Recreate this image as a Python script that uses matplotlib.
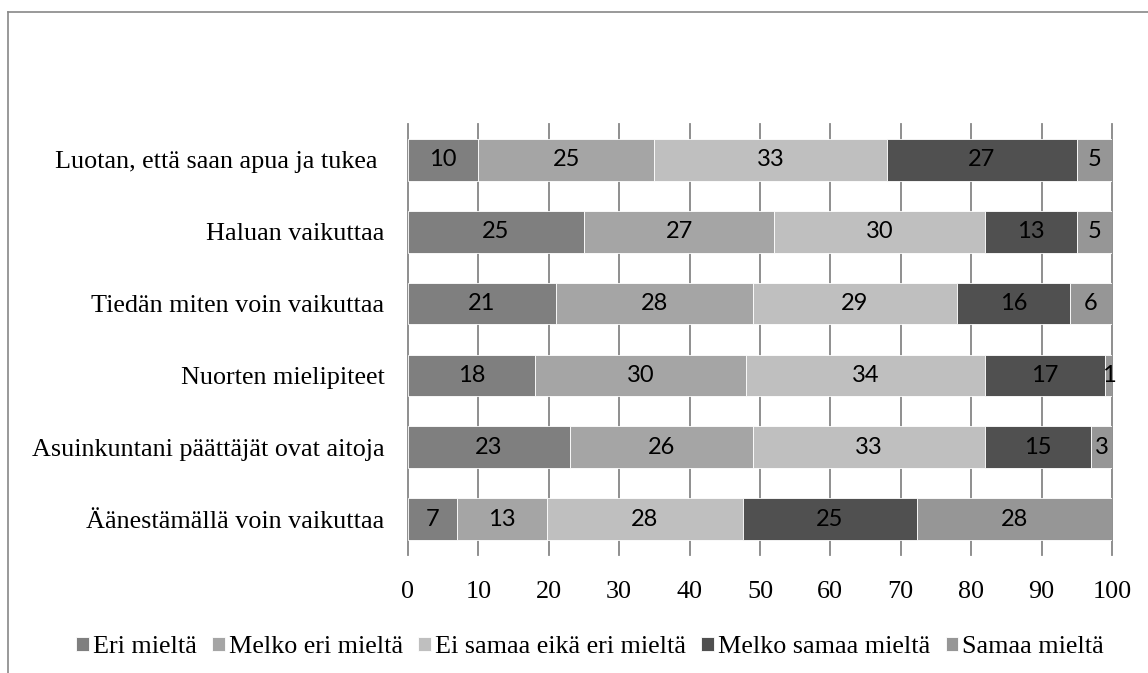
import numpy as np
import matplotlib.pyplot as plt
from matplotlib.lines import Line2D

# Väittämät ylhäältä alas
kategoriat = ["Luotan, että saan apua ja tukea ", "Haluan vaikuttaa",
              "Tiedän miten voin vaikuttaa", "Nuorten mielipiteet",
              "Asuinkuntani päättäjät ovat aitoja", "Äänestämällä voin vaikuttaa"]

sarjat = ["Eri mieltä", "Melko eri mieltä", "Ei samaa eikä eri mieltä",
          "Melko samaa mieltä", "Samaa mieltä"]

eri = [10, 25, 21, 18, 23, 7]
melko_eri = [25, 27, 28, 30, 26, 13]
ei_kumpikaan = [33, 30, 29, 34, 33, 28]
melko_samaa = [27, 13, 16, 17, 15, 25]
samaa = [5, 5, 6, 1, 3, 28]

varit = ["#7f7f7f", "#a5a5a5", "#bfbfbf", "#505050", "#969696"]

serif = "Liberation Serif"
sans = "Lato"

data = np.array([eri, melko_eri, ei_kumpikaan, melko_samaa, samaa], dtype=float)
osuudet = data / data.sum(axis=0) * 100  # 100 % pinottu

fig = plt.figure(figsize=(11.48, 6.73), dpi=100)
ax = fig.add_axes([0.3554, 0.1753, 0.6132, 0.6405])

y = np.arange(len(kategoriat))
vasen = np.zeros(len(kategoriat))
for i, nimi in enumerate(sarjat):
    palkit = ax.barh(y, osuudet[i], left=vasen, height=0.58, color=varit[i],
                     edgecolor="white", linewidth=0.6, label=nimi, zorder=3)
    for j, p in enumerate(palkit):
        ax.text(vasen[j] + osuudet[i][j] / 2, y[j], str(int(data[i][j])),
                ha="center", va="center", fontsize=17, family=sans,
                color="black", zorder=4)
    vasen += osuudet[i]

ax.set_xlim(0, 100)
ax.set_ylim(len(kategoriat) - 0.5, -0.5)
ax.set_xticks(range(0, 101, 10))
ax.set_yticks(y)
ax.set_yticklabels(kategoriat, family=serif, fontsize=18.8)
for t in ax.get_xticklabels():
    t.set_family(serif)
    t.set_fontsize(18.8)
ax.tick_params(axis="both", length=0)
ax.tick_params(axis="x", pad=19)
ax.tick_params(axis="y", pad=17)
ax.grid(axis="x", color="#868686", linewidth=1.3, zorder=1)
ax.set_axisbelow(True)
for gl in ax.xaxis.get_gridlines():
    gl.set_clip_on(False)
for s in ax.spines.values():
    s.set_visible(False)

fig.legend(loc="center", bbox_to_anchor=(0.514, 0.038), ncol=5, frameon=False,
           prop={"family": serif, "size": 18.8}, handlelength=0.48,
           handleheight=0.48, handletextpad=0.15, columnspacing=0.6,
           borderaxespad=0)

# kaavioalueen reunus
fig.add_artist(Line2D([8 / 1148, 1], [1 - 12 / 673, 1 - 12 / 673],
                      transform=fig.transFigure, color="#888888", linewidth=1.2))
fig.add_artist(Line2D([8 / 1148, 8 / 1148], [0, 1 - 12 / 673],
                      transform=fig.transFigure, color="#888888", linewidth=1.2))

fig.savefig("out.png", dpi=100)
